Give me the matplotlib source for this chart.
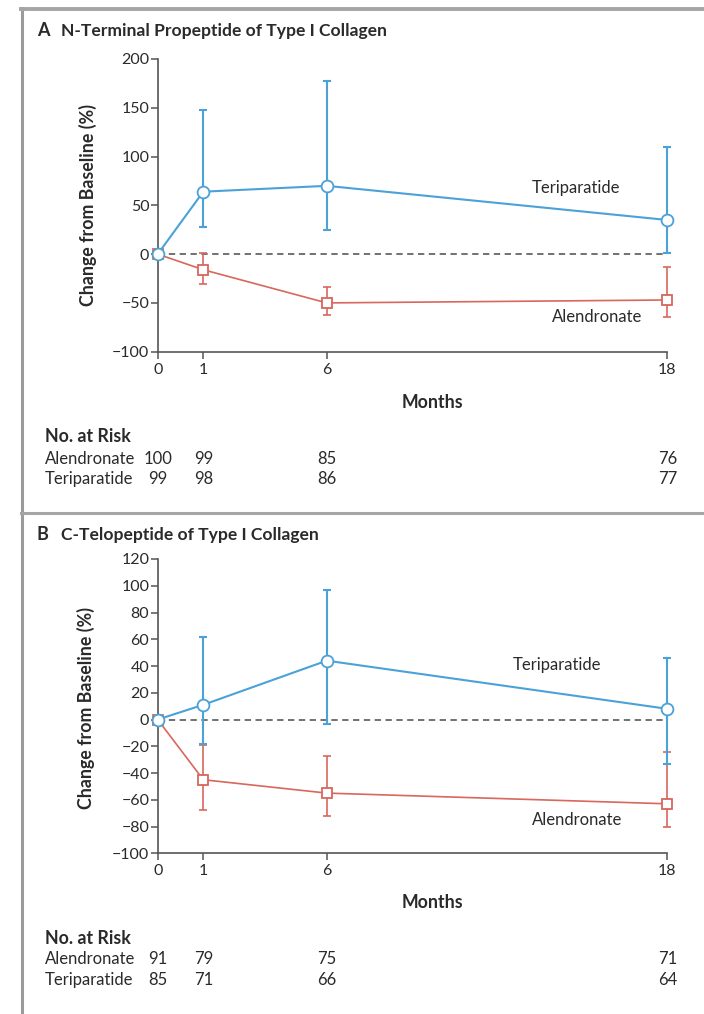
import numpy as np
import matplotlib
matplotlib.use('Agg')
import matplotlib.pyplot as plt
from matplotlib.lines import Line2D
import matplotlib.transforms as mtransforms

# ---------------- data ----------------
months = [0, 1, 6, 18]
month_labels = ['0', '1', '6', '18']
series_names = ['Teriparatide', 'Alendronate']

# Panel A: N-terminal propeptide
a_title = 'N-Terminal Propeptide of Type I Collagen'
a_teri_mean = [0, 64, 70, 35]
a_teri_low = [0, 28, 25, 1]
a_teri_high = [0, 148, 177, 110]
a_alen_mean = [0, -16, -50, -47]
a_alen_low = [0, -31, -62, -64]
a_alen_high = [0, 1, -34, -13]
a_yticks = [-100, -50, 0, 50, 100, 150, 200]
a_risk_alen = [100, 99, 85, 76]
a_risk_teri = [99, 98, 86, 77]

# Panel B: C-telopeptide
b_title = 'C-Telopeptide of Type I Collagen'
b_teri_mean = [0, 11, 44, 8]
b_teri_low = [0, -18, -3, -33]
b_teri_high = [0, 62, 97, 46]
b_alen_mean = [0, -45, -55, -63]
b_alen_low = [0, -68, -72, -80]
b_alen_high = [0, -19, -27, -24]
b_yticks = [-100, -80, -60, -40, -20, 0, 20, 40, 60, 80, 100, 120]
b_risk_alen = [91, 79, 75, 71]
b_risk_teri = [85, 71, 66, 64]

# ---------------- style ----------------
plt.rcParams['font.family'] = ['Lato', 'DejaVu Sans']
TXT = '#2a2a2a'
AX = '#555555'
BLUE = '#4aa2d8'
RED = '#d8675c'

W, H = 704, 1014
fig = plt.figure(figsize=(W / 100, H / 100), dpi=100)
fig.patch.set_facecolor('white')


def fx(x):
    return x / W


def fy(y):
    return 1 - y / H


# piecewise month spacing of the original x axis
_src = [-10, 0, 1, 6, 18, 30]
_dst = [-10, 0, 1.61, 5.97, 18, 30]


def fwd(x):
    return np.interp(x, _src, _dst)


def inv(x):
    return np.interp(x, _dst, _src)


# frame lines
fig.add_artist(Line2D([fx(22), fx(22)], [fy(8), 0], color='#9a9a9a', lw=2.2))
fig.add_artist(Line2D([fx(21), 1], [fy(9), fy(9)], color='#a5a5a5', lw=2.8))
fig.add_artist(Line2D([fx(21), 1], [fy(513), fy(513)], color='#a5a5a5', lw=2.2))


def panel(letter, title, top, bottom, ylim, yticks,
          teri, alen, risk_alen, risk_teri, title_y, ylab_y, months_y,
          risk_y, teri_lab, alen_lab):
    left, right = 157.7, 667.3
    ax = fig.add_axes([fx(left), fy(bottom), fx(right) - fx(left),
                       (bottom - top) / H])
    ax.set_xscale('function', functions=(fwd, inv))
    ax.set_xlim(0, 18)
    ax.set_ylim(*ylim)
    for s in ['top', 'right']:
        ax.spines[s].set_visible(False)
    for s in ['left', 'bottom']:
        ax.spines[s].set_color(AX)
        ax.spines[s].set_linewidth(1.2)
    ax.set_xticks(months)
    ax.set_xticklabels(month_labels)
    ax.xaxis.set_minor_locator(matplotlib.ticker.NullLocator())
    ax.set_yticks(yticks)
    ax.set_yticklabels([str(v).replace('-', '\u2212') for v in yticks])
    ax.tick_params(axis='both', colors=AX, labelcolor=TXT, labelsize=11.5,
                   length=5, width=1.1, direction='out')
    ax.tick_params(axis='y', pad=1.0)
    ax.tick_params(axis='x', pad=3)

    ax.axhline(0, color='#666666', lw=1.3, ls=(0, (3.5, 2.5)), zorder=1)

    for (mean, low, high), color, marker, ms, lw in [
            (alen, RED, 's', 7.5, 1.2), (teri, BLUE, 'o', 8.5, 1.5)]:
        mean = np.asarray(mean, float)
        low = np.asarray(low, float)
        high = np.asarray(high, float)
        m = np.asarray(months, float)
        ax.errorbar(m[1:], mean[1:], yerr=[mean[1:] - low[1:], high[1:] - mean[1:]],
                    fmt='none', ecolor=color, elinewidth=lw, capsize=2.8,
                    capthick=lw, zorder=2, clip_on=False)
        ax.plot(m, mean, color=color, lw=lw, marker=marker, ms=ms,
                mfc='white', mec=color, mew=1.3, zorder=3, clip_on=False)

    # series labels
    fig.text(fx(teri_lab[0]), fy(teri_lab[1]), series_names[0], ha='center',
             va='center', fontsize=12, color=TXT)
    fig.text(fx(alen_lab[0]), fy(alen_lab[1]), series_names[1], ha='center',
             va='center', fontsize=12, color=TXT)

    # titles and axis labels
    fig.text(fx(37), fy(title_y), letter, fontsize=13, fontweight='bold',
             color=TXT, va='center', ha='left')
    fig.text(fx(61), fy(title_y), title, fontsize=12.6, fontweight='bold',
             color=TXT, va='center', ha='left')
    fig.text(fx(ylab_y[0]), fy(ylab_y[1]), 'Change from Baseline (%)',
             rotation=90, fontsize=12.8, fontweight='bold', color=TXT,
             ha='center', va='center')
    fig.text(fx(432), fy(months_y), 'Months', fontsize=12.8,
             fontweight='bold', color=TXT, ha='center', va='center')

    # number at risk
    fig.text(fx(45), fy(risk_y[0]), 'No. at Risk', fontsize=12.8,
             fontweight='bold', color=TXT, ha='left', va='center')
    trans = mtransforms.blended_transform_factory(ax.transData, fig.transFigure)
    for row_y, name, vals in [(risk_y[1], series_names[1], risk_alen),
                              (risk_y[2], series_names[0], risk_teri)]:
        fig.text(fx(45), fy(row_y), name, fontsize=12, color=TXT,
                 ha='left', va='center')
        for mo, v in zip(months, vals):
            ax.text(mo, fy(row_y), str(v), transform=trans, fontsize=12,
                    color=TXT, ha='center', va='center', clip_on=False)
    return ax


panel('A', a_title, 59, 351.7, (-100, 200), a_yticks,
      (a_teri_mean, a_teri_low, a_teri_high),
      (a_alen_mean, a_alen_low, a_alen_high),
      a_risk_alen, a_risk_teri, 31, (88, 205), 402, (437, 459, 479),
      (576, 188), (597, 317))

panel('B', b_title, 559, 853.3, (-100, 120), b_yticks,
      (b_teri_mean, b_teri_low, b_teri_high),
      (b_alen_mean, b_alen_low, b_alen_high),
      b_risk_alen, b_risk_teri, 535, (86, 708), 903, (938, 959, 980),
      (557, 665), (577, 820))

fig.savefig('out.png', dpi=100, facecolor='white')
